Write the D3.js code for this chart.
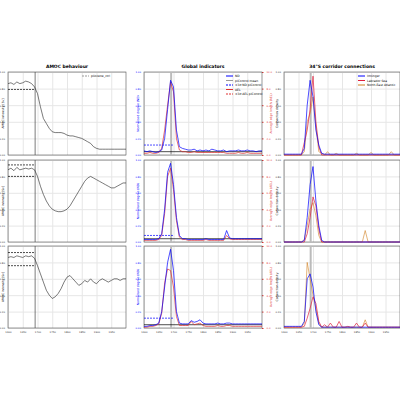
<!DOCTYPE html>
<html><head><meta charset="utf-8">
<script src="https://cdn.jsdelivr.net/npm/d3@7"></script>
<style>body{margin:0;background:#fff}text{font-family:"DejaVu Sans",sans-serif}</style>
</head><body><div id="chart"></div>
<script>
// years sampled along x
const years = d3.range(1600, 2001, 10);
const yearTicks = [1600, 1650, 1700, 1750, 1800, 1850, 1900, 1950];
const eventYear = 1692;

// AMOC behaviour (Sv, arbitrary units 0-100)
const amoc1 = [86,87,85,88,86,87,89,88,86,82,74,58,44,38,32,28,27,27,27,26,24,23,23,22,21,20,18,16,14,10,8,7,7,7,7,7,7,7,7,7,7];
const amoc2 = [88,90,87,91,88,89,90,89,90,88,80,68,58,50,44,40,38,37,37,38,40,44,50,56,62,68,74,78,80,78,76,74,72,70,68,66,66,68,70,72,72];
const amoc3 = [86,87,86,88,87,86,88,87,88,85,76,66,56,46,40,36,38,42,48,56,62,64,60,56,52,54,58,56,60,56,54,58,60,58,56,58,60,60,58,60,60];
const amocLevels = [[79], [80, 94], [76, 92]];

// Global indicators: normalised degree (blue) and avg edge length (red)
const deg1 = [5,4,5,4,3,4,6,20,55,90,82,30,10,8,7,6,6,7,5,6,5,6,5,7,6,5,5,6,4,5,5,5,6,5,5,6,5,5,4,5,5];
const len1 = [2,2,3,2,2,3,8,30,60,88,76,20,6,4,4,3,3,4,3,3,3,3,3,3,3,3,3,3,2,2,2,2,3,2,2,3,2,2,2,2,2];
const deg2 = [3,3,3,3,3,4,10,40,85,96,70,30,8,4,4,3,3,3,3,3,3,4,3,3,3,3,3,3,14,5,4,4,4,4,4,4,4,4,4,4,4];
const len2 = [2,2,2,2,2,3,8,35,80,90,64,26,6,3,3,2,2,2,2,2,2,3,2,2,2,2,2,2,8,4,3,3,3,3,3,3,3,3,3,3,3];
const deg3 = [2,2,3,3,4,6,20,50,80,96,70,20,6,5,5,5,9,7,8,10,6,5,5,5,5,6,5,5,6,6,5,5,5,5,5,5,5,5,5,5,5];
const len3 = [1,1,2,2,3,5,18,55,72,70,50,14,3,3,3,3,8,4,5,6,3,2,2,2,2,3,2,2,3,3,2,2,2,2,2,2,2,2,2,2,2];
const degLevel = [12, 8, 12];

// 34S corridor connections
const irm1 = [1,1,1,1,1,1,1,8,60,90,70,30,12,2,1,1,1,1,1,1,1,1,1,1,1,1,1,1,1,1,1,1,1,1,1,1,1,1,1,1,1];
const lab1 = [0,0,0,0,0,0,0,15,30,55,95,40,10,0,0,0,0,0,0,0,0,0,0,0,0,0,0,0,0,0,0,0,0,0,0,0,0,0,0,0,0];
const nea1 = [0,0,0,0,0,0,0,4,40,50,70,35,4,2,0,4,0,0,2,0,0,0,0,0,0,2,0,0,0,0,3,0,0,0,0,0,0,4,0,0,0];
const irm2 = [0,0,0,0,0,0,0,2,30,70,92,50,20,2,0,0,0,0,0,0,0,0,0,0,0,0,0,0,0,0,0,0,0,0,0,0,0,0,0,0,0];
const lab2 = [0,0,0,0,0,0,0,0,10,30,55,44,16,0,0,0,0,0,0,0,0,0,0,0,0,0,0,0,0,0,0,0,0,0,0,0,0,0,0,0,0];
const nea2 = [0,0,0,0,0,0,0,3,20,40,48,32,8,0,0,0,0,0,0,0,0,0,0,0,0,0,0,0,14,0,0,0,0,0,0,0,0,0,0,0,0];
const irm3 = [2,2,2,2,2,2,2,8,60,66,50,20,4,1,1,1,1,1,1,1,1,1,1,1,1,1,1,1,1,1,1,1,1,1,1,1,1,1,1,1,1];
const lab3 = [1,1,1,1,1,1,1,2,12,24,38,30,8,1,4,1,6,1,1,8,1,1,2,1,1,6,1,1,6,1,1,1,1,1,1,1,1,1,1,1,1];
const nea3 = [1,1,1,1,1,1,1,6,80,60,40,24,6,1,1,1,1,1,1,1,1,1,1,1,1,1,1,1,10,1,1,1,1,1,1,1,1,1,1,1,1];

const svg = d3.select("#chart").append("svg").attr("width", 400).attr("height", 400);
const rows = [[72, 155], [160, 242], [246, 328]];
const cols = [[8, 126], [144, 262], [284, 400]];
const titles = ["AMOC behaviour", "Global indicators", "34°S corridor connections"];

function panel(ci, ri) {
  const x = d3.scaleLinear().domain([1600, 2000]).range(cols[ci]);
  const y = d3.scaleLinear().domain([0, 100]).range([rows[ri][1], rows[ri][0]]);
  const g = svg.append("g");
  g.append("g").attr("transform", `translate(0,${rows[ri][1]})`)
    .call(d3.axisBottom(x).tickValues(yearTicks).tickSize(-(rows[ri][1]-rows[ri][0])).tickFormat(ri == 2 ? d3.format("d") : ""))
    .call(a => a.selectAll("line").attr("stroke", "#e6e6e6"))
    .call(a => a.selectAll("text").attr("font-size", 2.5).attr("fill", "#333"));
  g.append("g").attr("transform", `translate(${cols[ci][0]},0)`)
    .call(d3.axisLeft(y).ticks(5).tickSize(-(cols[ci][1]-cols[ci][0])).tickFormat(d => (d/100).toFixed(2)))
    .call(a => a.selectAll("line").attr("stroke", "#e6e6e6"))
    .call(a => a.selectAll("text").attr("font-size", 2.5).attr("fill", ci == 1 ? "blue" : "#333"));
  if (ci == 1) g.append("g").attr("transform", `translate(${cols[ci][1]},0)`)
    .call(d3.axisRight(y).ticks(5).tickSize(1.5).tickFormat(d => (d/10).toFixed(1)))
    .call(a => a.selectAll("line").attr("stroke", "#e03030"))
    .call(a => a.selectAll("text").attr("font-size", 2.5).attr("fill", "#e03030"));
  g.selectAll(".domain").remove();
  g.append("rect").attr("x", cols[ci][0]).attr("y", rows[ri][0])
    .attr("width", cols[ci][1]-cols[ci][0]).attr("height", rows[ri][1]-rows[ri][0])
    .attr("fill", "none").attr("stroke", "#555").attr("stroke-width", 0.6);
  g.append("line").attr("x1", x(eventYear)).attr("x2", x(eventYear))
    .attr("y1", rows[ri][0]).attr("y2", rows[ri][1]).attr("stroke", ci == 0 ? "#444" : "#bbb")
    .attr("stroke-width", ci == 0 ? 0.7 : 2);
  if (ri == 0) g.append("text").attr("x", (cols[ci][0]+cols[ci][1])/2).attr("y", 68)
    .attr("text-anchor", "middle").attr("font-size", 4.5).attr("font-weight", "bold").text(titles[ci]);
  return {x, y, g};
}

function line(p, data, color, w, dash) {
  p.g.append("path").datum(data)
    .attr("d", d3.line().x((d, i) => p.x(years[i])).y(d => p.y(d)))
    .attr("fill", "none").attr("stroke", color).attr("stroke-width", w)
    .attr("stroke-dasharray", dash || null);
}
function level(p, v, x0, x1, color, dash) {
  p.g.append("line").attr("x1", p.x(x0)).attr("x2", p.x(x1))
    .attr("y1", p.y(v)).attr("y2", p.y(v)).attr("stroke", color)
    .attr("stroke-width", 0.7).attr("stroke-dasharray", dash);
}
function legend(p, items, x0, y0) {
  items.forEach((it, i) => {
    p.g.append("line").attr("x1", x0).attr("x2", x0+7).attr("y1", y0+i*4.5).attr("y2", y0+i*4.5)
      .attr("stroke", it[1]).attr("stroke-width", 1).attr("stroke-dasharray", it[2] || null);
    p.g.append("text").attr("x", x0+9).attr("y", y0+i*4.5+1).attr("font-size", 3).text(it[0]);
  });
}

const amoc = [amoc1, amoc2, amoc3];
const degs = [deg1, deg2, deg3], lens = [len1, len2, len3];
const corr = [[irm1, lab1, nea1], [irm2, lab2, nea2], [irm3, lab3, nea3]];

rows.forEach((r, ri) => {
  const a = panel(0, ri);
  amocLevels[ri].forEach(v => level(a, v, 1600, eventYear, "#000", "2,1"));
  line(a, amoc[ri], "#222", 0.6);
  svg.append("text").attr("transform", `translate(4,${(r[0]+r[1])/2}) rotate(-90)`)
    .attr("text-anchor", "middle").attr("font-size", 3).text("AMOC intensity [Sv]");

  const b = panel(1, ri);
  level(b, degLevel[ri], 1600, 1700, "blue", "2,1");
  level(b, 4, 1600, 2000, "#000", null);
  line(b, lens[ri], "#e03030", 0.7);
  line(b, degs[ri], "blue", 0.7);
  svg.append("text").attr("transform", `translate(139,${(r[0]+r[1])/2}) rotate(-90)`)
    .attr("text-anchor", "middle").attr("font-size", 3).attr("fill", "blue").text("Normalised degree (ND)");
  svg.append("text").attr("transform", `translate(272,${(r[0]+r[1])/2}) rotate(-90)`)
    .attr("text-anchor", "middle").attr("font-size", 3).attr("fill", "#e03030").text("Average edge length (AEL)");

  const c = panel(2, ri);
  line(c, corr[ri][2], "#d08020", 0.6);
  line(c, corr[ri][1], "#e0203c", 0.7);
  line(c, corr[ri][0], "blue", 0.7);
  svg.append("text").attr("transform", `translate(278,${(r[0]+r[1])/2}) rotate(-90)`)
    .attr("text-anchor", "middle").attr("font-size", 3).text("Connection density");
  if (ri == 0) {
    legend(a, [["pliocene_ctrl", "#999", "2,1"]], 82, 76);
    legend(b, [["ND", "blue"], ["piControl mean", "#999"], ["±3σ ND piControl", "blue", "2,1"], ["AEL", "#e03030"], ["±3σ AEL piControl", "#e03030", "2,1"]], 226, 76);
    legend(c, [["Irminger", "blue"], ["Labrador Sea", "#e0203c"], ["North-East Atlantic", "#d08020"]], 358, 76);
  }
});
</script></body></html>
